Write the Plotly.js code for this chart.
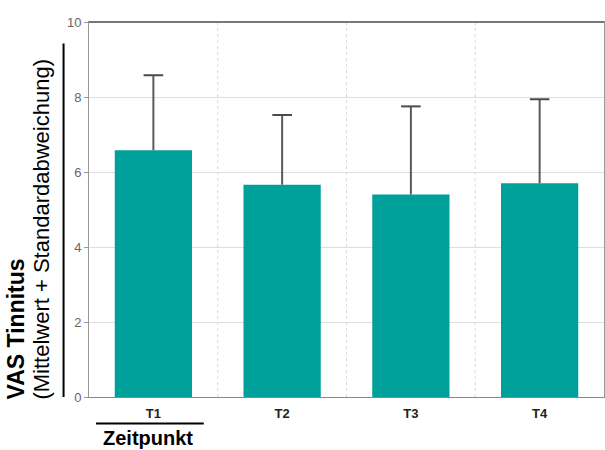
<!DOCTYPE html>
<html>
<head>
<meta charset="utf-8">
<script src="https://cdn.plot.ly/plotly-3.0.1.min.js"></script>
<style>
  html, body { margin: 0; padding: 0; background: #fff; }
  #chart { width: 605px; height: 450px; }
</style>
</head>
<body>
<div id="chart"></div>
<script>
// VAS Tinnitus per time point: mean and standard deviation
const zeitpunkte = ['T1', 'T2', 'T3', 'T4'];
const mittelwert = [6.58, 5.66, 5.40, 5.70];
const standardabweichung = [2.00, 1.86, 2.35, 2.24];
const yTicks = [0, 2, 4, 6, 8, 10];

const obereGrenze = mittelwert.map((m, i) => m + standardabweichung[i]);

const balken = {
  type: 'bar',
  x: zeitpunkte,
  y: mittelwert,
  width: 0.6,
  marker: { color: '#00A09A', line: { width: 0 } },
  hoverinfo: 'skip'
};

// one-sided whisker: stem from the mean up to mean + SD
const stielX = [], stielY = [];
zeitpunkte.forEach((z, i) => {
  stielX.push(z, z, null);
  stielY.push(mittelwert[i], obereGrenze[i], null);
});
const stiele = {
  type: 'scatter',
  mode: 'lines',
  x: stielX,
  y: stielY,
  line: { color: '#5a5a5a', width: 2 },
  hoverinfo: 'skip'
};

// caps at mean + SD
const kappen = {
  type: 'scatter',
  mode: 'markers',
  x: zeitpunkte,
  y: obereGrenze,
  marker: { symbol: 'line-ew', size: 14, line: { color: '#4a4a4a', width: 2 } },
  hoverinfo: 'skip'
};

// vertical separators between the time points
const separators = zeitpunkte.slice(0, -1).map((_, i) => ({
  type: 'line', xref: 'x', yref: 'paper',
  x0: i + 0.5, x1: i + 0.5, y0: 0, y1: 1,
  line: { color: '#d8d8d8', width: 1, dash: 'dot' },
  layer: 'below'
}));

const layout = {
  width: 605,
  height: 450,
  margin: { l: 89, r: 1, t: 22, b: 53 },
  paper_bgcolor: '#fff',
  plot_bgcolor: '#fff',
  showlegend: false,
  font: { family: 'Liberation Sans, Arial, sans-serif', color: '#222' },
  xaxis: {
    type: 'category',
    range: [-0.5, zeitpunkte.length - 0.5],
    showgrid: false,
    showline: true,
    linecolor: '#888',
    linewidth: 1,
    mirror: true,
    ticks: '',
    ticklabelstandoff: 4,
    tickfont: { size: 13, color: '#222', weight: 'bold' },
    zeroline: false,
    fixedrange: true
  },
  yaxis: {
    range: [0, 10],
    tickvals: yTicks,
    ticktext: yTicks.map(String),
    showgrid: true,
    gridcolor: '#dedede',
    gridwidth: 1,
    showline: true,
    linecolor: '#999',
    linewidth: 1,
    mirror: 'ticks',
    ticks: 'outside',
    ticklen: 4,
    tickcolor: '#999',
    tickfont: { size: 13, color: '#666' },
    zeroline: false,
    fixedrange: true
  },
  shapes: separators.concat([
    // darker top edge of the frame
    { type: 'line', xref: 'paper', yref: 'paper', x0: 0, x1: 1, y0: 1, y1: 1,
      line: { color: '#777', width: 2 } },
    // rule beside the y-axis title
    { type: 'line', xref: 'paper', yref: 'paper', x0: -0.0494, x1: -0.0494, y0: 0, y1: 0.943,
      line: { color: '#000', width: 2 } },
    // rule above the x-axis title
    { type: 'line', xref: 'paper', yref: 'paper', x0: 0.0136, x1: 0.2229, y0: -0.0707, y1: -0.0707,
      line: { color: '#000', width: 2 } }
  ]),
  annotations: [
    { text: '<b>VAS Tinnitus</b>', xref: 'paper', yref: 'paper',
      x: -0.141, y: -0.012, xanchor: 'center', yanchor: 'bottom', textangle: -90,
      showarrow: false, font: { size: 23, color: '#000' } },
    { text: '(Mittelwert + Standardabweichung)', xref: 'paper', yref: 'paper',
      x: -0.094, y: -0.012, xanchor: 'center', yanchor: 'bottom', textangle: -90,
      showarrow: false, font: { size: 22, color: '#000' } },
    { text: '<b>Zeitpunkt</b>', xref: 'paper', yref: 'paper',
      x: 0.114, y: -0.1427, xanchor: 'center', yanchor: 'bottom',
      showarrow: false, font: { size: 20, color: '#000' } }
  ]
};

Plotly.newPlot('chart', [balken, stiele, kappen], layout, { displayModeBar: false, staticPlot: true });
</script>
</body>
</html>
